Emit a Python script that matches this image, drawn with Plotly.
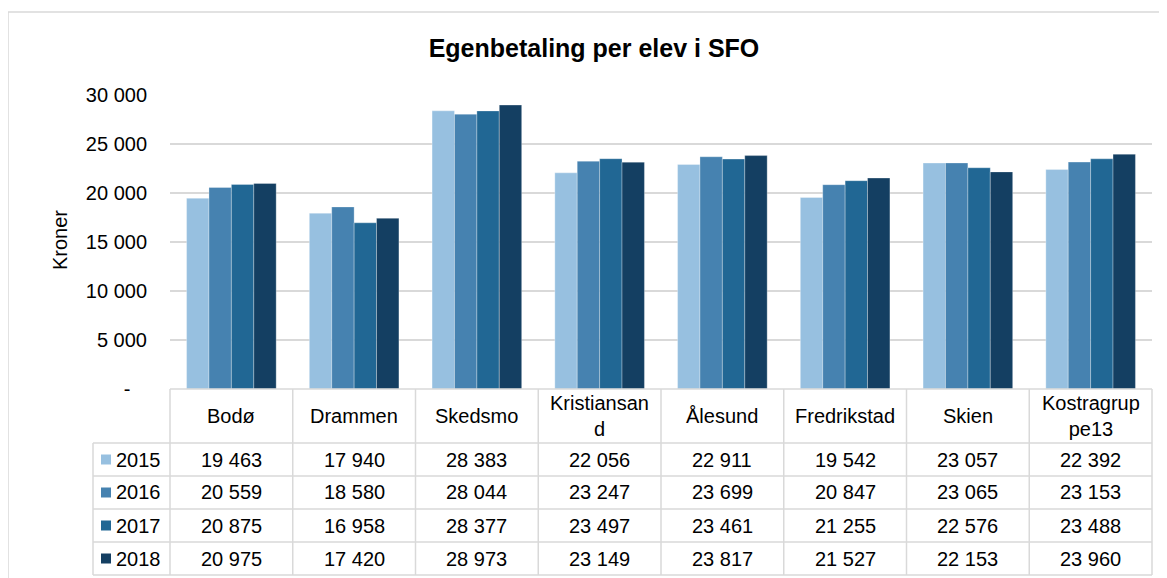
import plotly.graph_objects as go

# data
kommuner = ["Bodø", "Drammen", "Skedsmo", "Kristiansand", "Ålesund",
            "Fredrikstad", "Skien", "Kostragruppe13"]
header_labels = ["Bodø", "Drammen", "Skedsmo", "Kristiansan<br>d", "Ålesund",
                 "Fredrikstad", "Skien", "Kostragrup<br>pe13"]
years = ["2015", "2016", "2017", "2018"]
v2015 = [19463, 17940, 28383, 22056, 22911, 19542, 23057, 22392]
v2016 = [20559, 18580, 28044, 23247, 23699, 20847, 23065, 23153]
v2017 = [20875, 16958, 28377, 23497, 23461, 21255, 22576, 23488]
v2018 = [20975, 17420, 28973, 23149, 23817, 21527, 22153, 23960]
y_ticks = [0, 5000, 10000, 15000, 20000, 25000, 30000]
y_ticktext = ["-\u00a0\u00a0\u00a0", "5 000", "10 000", "15 000", "20 000", "25 000", "30 000"]

series = [v2015, v2016, v2017, v2018]
colors = ["#97c0e0", "#4682b0", "#216794", "#143f62"]

# page is offset by the body margin, so work in page pixels minus 8
OFF = 8
W, H = 1167, 578
L, R, T, B = 170 - OFF, 1152 - OFF, 95 - OFF, 389 - OFF
grid = "#d9d9d9"
font = "Liberation Sans, Arial, sans-serif"
fs = 20


def px(x):
    return (x - OFF - L) / (R - L)


def py(y):
    return (B - (y - OFF)) / (B - T)


def fmt(v):
    return f"{v:,}".replace(",", " ")


fig = go.Figure()
for year, vals, col in zip(years, series, colors):
    fig.add_trace(go.Bar(x=kommuner, y=vals, name=year,
                         marker=dict(color=col, line=dict(color="rgba(255,255,255,0.5)", width=0.6)),
                         showlegend=False))

shapes = []
ann = []

# outer frame (left and top)
shapes.append(dict(type="line", xref="paper", yref="paper", x0=px(8), x1=px(W + 20),
                   y0=py(12), y1=py(12), line=dict(color=grid, width=1.5)))
shapes.append(dict(type="line", xref="paper", yref="paper", x0=px(8), x1=px(8),
                   y0=py(12), y1=py(H + 20), line=dict(color=grid, width=1.5)))

# data table grid (page pixel coords)
table_top = 389
header_bottom = 443
row_h = 33
row_tops = [header_bottom + i * row_h for i in range(len(years) + 1)]
legend_left = 93
col_left, col_right = 170, 1152
col_w = (col_right - col_left) / len(kommuner)

shapes.append(dict(type="line", xref="paper", yref="paper", x0=px(col_left), x1=px(col_right),
                   y0=py(table_top), y1=py(table_top), line=dict(color=grid, width=1.5)))
for yy in row_tops:
    shapes.append(dict(type="line", xref="paper", yref="paper", x0=px(legend_left), x1=px(col_right),
                       y0=py(yy), y1=py(yy), line=dict(color=grid, width=1.5)))
shapes.append(dict(type="line", xref="paper", yref="paper", x0=px(legend_left), x1=px(legend_left),
                   y0=py(header_bottom), y1=py(row_tops[-1]), line=dict(color=grid, width=1.5)))
for k in range(len(kommuner) + 1):
    xx = col_left + k * col_w
    shapes.append(dict(type="line", xref="paper", yref="paper", x0=px(xx), x1=px(xx),
                       y0=py(table_top), y1=py(row_tops[-1]), line=dict(color=grid, width=1.5)))

# header labels
for k, lab in enumerate(header_labels):
    ann.append(dict(x=kommuner[k], xref="x", y=py((table_top + header_bottom) / 2), yref="paper",
                    text=lab, showarrow=False, xanchor="center", yanchor="middle",
                    font=dict(size=fs, color="#000000", family=font)))

# rows
for i, (year, vals, col) in enumerate(zip(years, series, colors)):
    yc = row_tops[i] + row_h / 2
    shapes.append(dict(type="rect", xref="paper", yref="paper",
                       x0=px(101), x1=px(111), y0=py(yc - 5), y1=py(yc + 5),
                       fillcolor=col, line=dict(width=0)))
    ann.append(dict(x=px(114), xref="paper", y=py(yc), yref="paper", text=year,
                    showarrow=False, xanchor="left", yanchor="middle",
                    font=dict(size=fs, color="#000000", family=font)))
    for k, v in enumerate(vals):
        ann.append(dict(x=kommuner[k], xref="x", y=py(yc), yref="paper", text=fmt(v),
                        showarrow=False, xanchor="center", yanchor="middle",
                        font=dict(size=fs, color="#000000", family=font)))

# y axis title
ann.append(dict(x=px(60), xref="paper", y=py(240), yref="paper", text="Kroner",
                showarrow=False, textangle=-90, xanchor="center", yanchor="middle",
                font=dict(size=fs, color="#000000", family=font)))

fig.update_layout(
    width=W, height=H,
    margin=dict(l=L, r=W - R, t=T, b=H - B, autoexpand=False),
    paper_bgcolor="white", plot_bgcolor="white",
    barmode="group", bargap=0.27, bargroupgap=0,
    title=dict(text="<b>Egenbetaling per elev i SFO</b>", x=px(594), xanchor="center",
               xref="paper", y=1 - (48 - OFF) / H, yanchor="middle",
               font=dict(size=25, color="#000000", family=font)),
    xaxis=dict(showticklabels=False, showgrid=False, showline=False, ticks="",
               zeroline=False),
    yaxis=dict(range=[0, 30000], tickvals=y_ticks, ticktext=y_ticktext,
               showgrid=True, gridcolor=grid, gridwidth=1.5, zeroline=False,
               tickfont=dict(size=fs, color="#000000", family=font),
               ticklabelstandoff=22),
    shapes=shapes, annotations=ann,
)

fig.write_html("out.html")
